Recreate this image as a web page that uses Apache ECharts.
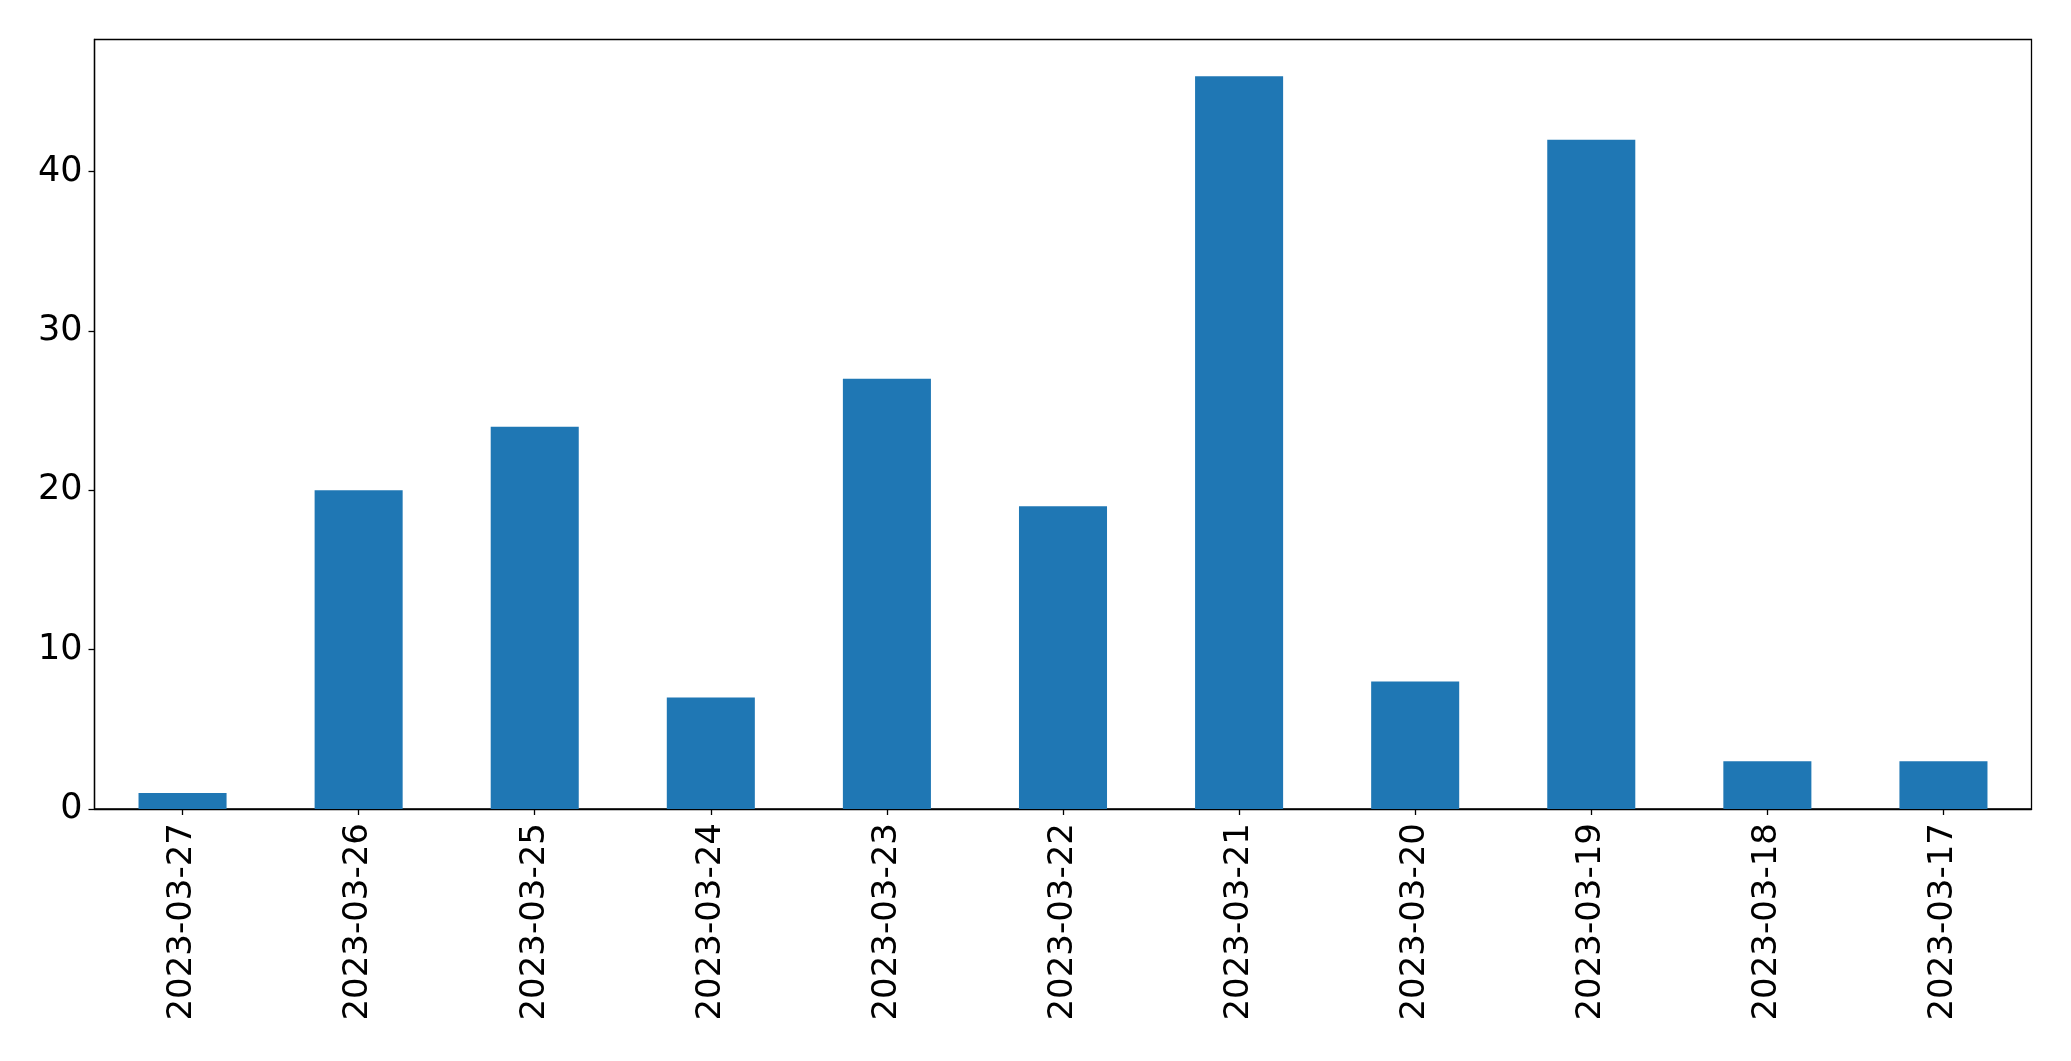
<!DOCTYPE html>
<html>
<head>
<meta charset="utf-8">
<script src="https://cdn.jsdelivr.net/npm/echarts@6/dist/echarts.min.js"></script>
<style>
html,body{margin:0;padding:0;background:#fff;}
#chart{width:2071px;height:1061px;}
</style>
</head>
<body>
<div id="chart"></div>
<script>
const categories = ["2023-03-27","2023-03-26","2023-03-25","2023-03-24","2023-03-23","2023-03-22","2023-03-21","2023-03-20","2023-03-19","2023-03-18","2023-03-17"];
const values = [1, 20, 24, 7, 27, 19, 46, 8, 42, 3, 3];
const yTicks = [0, 10, 20, 30, 40];

const chart = echarts.init(document.getElementById('chart'), null, {renderer: 'canvas'});
chart.setOption({
  backgroundColor: '#ffffff',
  animation: false,
  grid: {
    left: 94.5, right: 39.5, top: 39.5, bottom: 252,
    show: true, borderColor: '#000', borderWidth: 1.3, backgroundColor: 'transparent'
  },
  xAxis: {
    type: 'category',
    data: categories,
    boundaryGap: true,
    axisLine: {show: true, lineStyle: {color: '#000', width: 1.3}},
    axisTick: {show: true, alignWithLabel: true, length: 6, lineStyle: {color: '#000', width: 1.3}},
    axisLabel: {rotate: 90, interval: 0, margin: 14, fontFamily: 'DejaVu Sans', fontSize: 34, color: '#000'},
    splitLine: {show: false}
  },
  yAxis: {
    type: 'value',
    min: 0, max: 48.3, interval: 10,
    axisLine: {show: true, lineStyle: {color: '#000', width: 1.3}},
    axisTick: {show: true, length: 6, lineStyle: {color: '#000', width: 1.3}},
    axisLabel: {
      margin: 12, fontFamily: 'DejaVu Sans', fontSize: 35, color: '#000',
      showMaxLabel: false,
      formatter: function (v) { return yTicks.indexOf(v) >= 0 ? String(v) : ''; }
    },
    splitLine: {show: false}
  },
  series: [{
    type: 'bar',
    data: values,
    barWidth: '50%',
    itemStyle: {color: '#1f77b4'}
  }]
});
</script>
</body>
</html>
